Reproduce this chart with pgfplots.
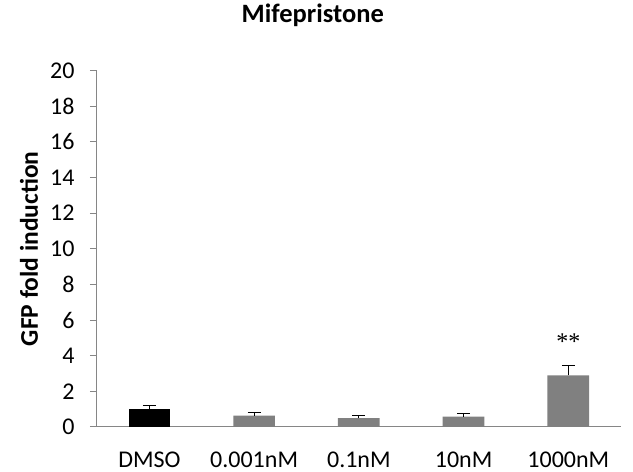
\documentclass[border=0pt]{standalone}
\usepackage{pgfplots}
\pgfplotsset{compat=1.18}
\usepackage{fontspec}
\setmainfont{Carlito}
\newfontfamily\serifast{Liberation Serif}
\definecolor{axisgray}{RGB}{134,134,134}
\definecolor{bargray}{RGB}{128,128,128}
\begin{document}
\begin{tikzpicture}
\useasboundingbox (-97pt,-45pt) rectangle (536pt,427pt);
\begin{axis}[
  at={(0pt,0pt)}, anchor=south west,
  scale only axis, width=523.7pt, height=356.5pt,
  xmin=-0.5, xmax=4.5, ymin=0, ymax=20,
  ytick={0,2,...,20},
  xtick={0,1,2,3,4},
  xticklabels={DMSO,0.001nM,0.1nM,10nM,1000nM},
  axis x line*=bottom, axis y line*=left,
  axis line style={axisgray, line width=1pt, -},
  x axis line style={-}, y axis line style={-},
  tick align=outside,
  major tick length=7pt,
  ytick style={axisgray, line width=1pt},
  xtick style={draw=none},
  extra x ticks={0.5,1.5,2.5,3.5,4.5},
  extra x tick labels={},
  extra x tick style={xtick style={axisgray, line width=1pt}, major tick length=7pt},
  tick label style={font=\fontsize{24}{28}\selectfont},
  xticklabel style={anchor=base, yshift=-33pt},
  yticklabel style={anchor=east, xshift=-12pt},
  /pgf/number format/assume math mode=true,
  ylabel={GFP fold induction},
  ylabel style={font=\bfseries\fontsize{25.5}{30}\selectfont, at={(axis description cs:-0.13,0.5)}, anchor=center},
  title={Mifepristone},
  title style={font=\bfseries\fontsize{26.5}{30}\selectfont, at={(axis description cs:0.412,1)}, anchor=base, yshift=42.5pt},
  clip=false,
]
\addplot+[ybar, bar width=41.7pt, bar shift=0pt, fill=black, draw=none, mark=none,
  error bars/.cd, y dir=plus, y explicit,
  error bar style={black, line width=1pt},
  error mark options={black, rotate=90, mark size=6.5pt, line width=1pt}]
  coordinates {(0,0.99) +- (0,0.24)};
\addplot+[ybar, bar width=41.7pt, bar shift=0pt, fill=bargray, draw=none, mark=none,
  error bars/.cd, y dir=plus, y explicit,
  error bar style={black, line width=1pt},
  error mark options={black, rotate=90, mark size=6.5pt, line width=1pt}]
  coordinates {(1,0.64) +- (0,0.2) (2,0.5) +- (0,0.17) (3,0.58) +- (0,0.15) (4,2.9) +- (0,0.54)};
\node[font=\serifast\fontsize{24}{28}\selectfont] at (axis cs:4,4.8) {**};
\end{axis}
\end{tikzpicture}
\end{document}
